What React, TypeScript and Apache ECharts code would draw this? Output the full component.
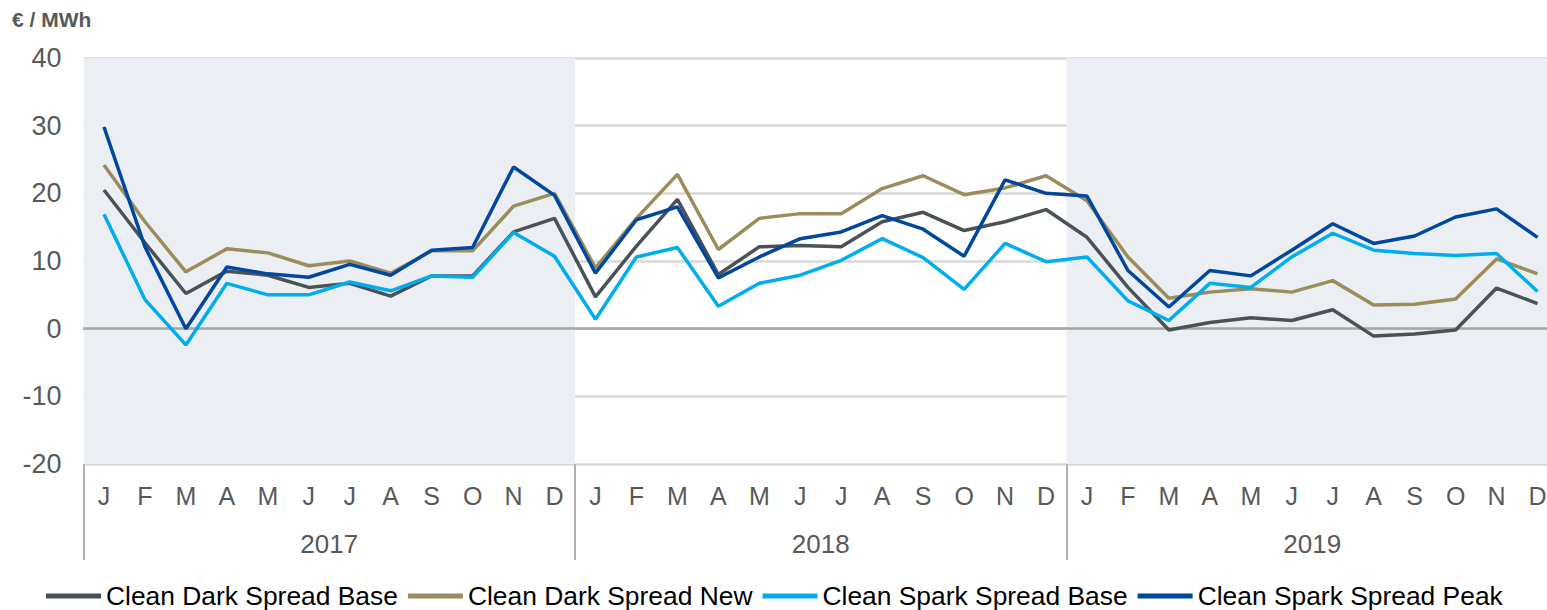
import React, { useEffect, useRef } from "react";
import * as echarts from "echarts";

const months = ["J", "F", "M", "A", "M", "J", "J", "A", "S", "O", "N", "D"];
const years = ["2017", "2018", "2019"];
const yTicks = { min: -20, max: 40, interval: 10 };
const unitLabel = "€ / MWh";

const seriesNames = [
  "Clean Dark Spread Base",
  "Clean Dark Spread New",
  "Clean Spark Spread Base",
  "Clean Spark Spread Peak",
];

const darkBase = [
  20.5, 12.7, 5.2, 8.5, 7.9, 6.1, 6.7, 4.8, 7.8, 7.8, 14.3, 16.3,
  4.7, 12.2, 19.1, 8.0, 12.1, 12.3, 12.1, 15.8, 17.2, 14.5, 15.8, 17.6,
  13.5, 6.1, -0.2, 0.9, 1.6, 1.2, 2.8, -1.1, -0.8, -0.2, 6.0, 3.7,
];
const darkNew = [
  24.2, 15.8, 8.4, 11.8, 11.2, 9.3, 10.0, 8.2, 11.5, 11.5, 18.1, 20.0,
  9.0, 16.3, 22.8, 11.7, 16.3, 17.0, 17.0, 20.7, 22.6, 19.8, 20.8, 22.6,
  18.9, 10.6, 4.5, 5.4, 5.9, 5.4, 7.1, 3.5, 3.6, 4.4, 10.3, 8.1,
];
const sparkBase = [
  16.9, 4.3, -2.4, 6.7, 5.0, 5.0, 6.9, 5.6, 7.8, 7.6, 14.2, 10.7,
  1.4, 10.6, 12.0, 3.3, 6.7, 7.9, 10.1, 13.3, 10.5, 5.8, 12.6, 9.9,
  10.6, 4.1, 1.2, 6.7, 6.1, 10.6, 14.1, 11.6, 11.1, 10.8, 11.1, 5.5,
];
const sparkPeak = [
  29.8, 12.1, 0.0, 9.1, 8.1, 7.6, 9.5, 7.9, 11.6, 12.0, 23.9, 19.7,
  8.2, 16.1, 18.0, 7.5, 10.6, 13.3, 14.3, 16.7, 14.7, 10.7, 22.0, 20.0,
  19.6, 8.6, 3.2, 8.6, 7.8, 11.6, 15.5, 12.6, 13.7, 16.5, 17.7, 13.5,
];

const colors = ["#4a5258", "#9a8d5b", "#00aeef", "#00479d"];

export default function App() {
  const ref = useRef<HTMLDivElement>(null);

  useEffect(() => {
    if (!ref.current) return;
    const chart = echarts.init(ref.current, null, { renderer: "svg" });

    const categories: string[] = [];
    years.forEach((y) => months.forEach((m, i) => categories.push(`${y}-${i}`)));

    const allData = [darkBase, darkNew, sparkBase, sparkPeak];
    const font = "Arial, 'Liberation Sans', sans-serif";

    chart.setOption({
      animation: false,
      textStyle: { fontFamily: font },
      title: {
        text: unitLabel,
        left: 12,
        top: 9,
        padding: 0,
        textStyle: { fontSize: 21, fontWeight: "bold", color: "#595959", fontFamily: font },
      },
      legend: {
        data: seriesNames,
        left: 46,
        top: 582,
        padding: 0,
        icon: "rect",
        itemWidth: 55,
        itemHeight: 5,
        itemGap: 10,
        textStyle: { fontSize: 26.4, lineHeight: 28, color: "#000", fontFamily: font },
      },
      grid: { left: 83.5, right: 0, top: 58, bottom: 146, containLabel: false },
      xAxis: [
        {
          type: "category",
          data: categories,
          boundaryGap: true,
          position: "bottom",
          axisLine: { show: true, lineStyle: { color: "#d9d9d9", width: 2 } },
          axisTick: { show: false },
          axisLabel: {
            interval: 0,
            margin: 19,
            fontSize: 25,
            color: "#595959",
            formatter: (_v: string, idx: number) => months[idx % 12],
          },
          splitLine: { show: false },
        },
        {
          type: "category",
          data: years,
          boundaryGap: true,
          position: "bottom",
          axisLine: { show: false },
          axisTick: { show: true, length: 96, lineStyle: { color: "#b0b0b0", width: 2 } },
          axisLabel: { interval: 0, margin: 67, fontSize: 26, color: "#595959" },
          splitLine: { show: false },
          splitArea: {
            show: true,
            areaStyle: { color: ["#ebeff3", "rgba(255,255,255,0)"] },
          },
        },
      ],
      yAxis: {
        type: "value",
        min: yTicks.min,
        max: yTicks.max,
        interval: yTicks.interval,
        axisLine: { show: false },
        axisTick: { show: false },
        axisLabel: { fontSize: 27, color: "#595959", margin: 22 },
        splitLine: {
          show: true,
          lineStyle: { width: 2.5, color: "#d9d9d9" },
        },
      },
      series: seriesNames.map((name, i) => ({
        name,
        type: "line",
        xAxisIndex: 0,
        data: allData[i],
        symbol: "none",
        smooth: false,
        color: colors[i],
        lineStyle: { width: 3.5, color: colors[i] },
        z: 3 + i,
        markLine:
          i === 0
            ? {
                silent: true,
                symbol: "none",
                label: { show: false },
                lineStyle: { color: "#a6a6a6", width: 2.5, type: "solid" },
                z: 1,
                data: [{ yAxis: 0 }],
              }
            : undefined,
      })),
    });

    return () => chart.dispose();
  }, []);

  return (
    <div style={{ position: "absolute", left: 0, top: 0, width: 1547, height: 610, overflow: "hidden" }}>
      <div ref={ref} style={{ width: 1558, height: 610 }} />
    </div>
  );
}
